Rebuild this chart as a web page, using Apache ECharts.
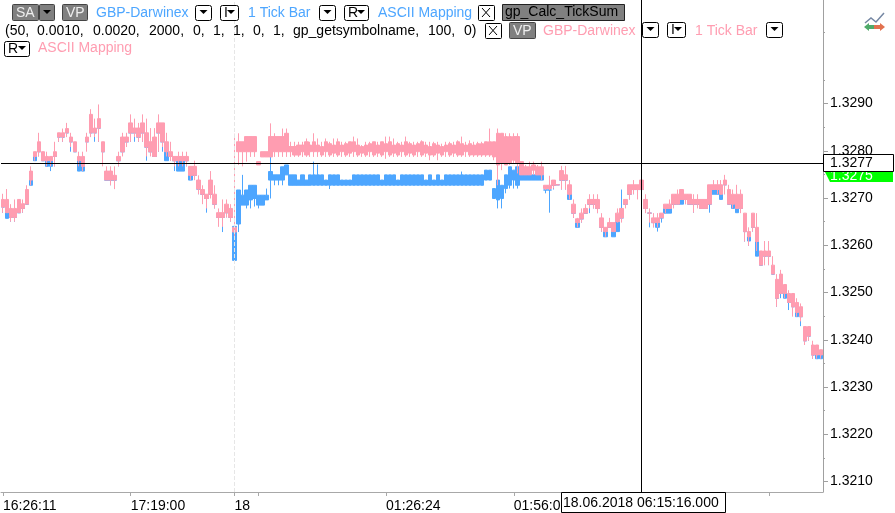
<!DOCTYPE html>
<html>
<head>
<meta charset="utf-8">
<style>html,body{margin:0;padding:0;background:#fff}#c{width:895px;height:513px}</style>
<script src="https://cdn.jsdelivr.net/npm/echarts@6/dist/echarts.min.js"></script>
</head>
<body>
<div id="c"></div>
<script>
// Prices are written in points above 1.32000 (1 point = 0.00001)
const priceBase = 1.32;
const pinkHigh = [
709,719,687,697,697,697,727,767,798,838,
798,798,788,819,838,847,859,838,819,798,
798,838,888,868,898,819,767,767,767,798,
838,838,877,868,859,877,868,848,848,877,
859,838,819,788,798,798,798,767,779,748,
727,708,757,727,678,697,697,687,836,837,
819,830,830,830,777,798,798,858,837,830,
847,847,819,819,819,819,826,819,837,826,
819,826,819,826,826,819,819,819,830,826,
812,819,819,819,819,819,830,830,826,819,
819,830,819,819,819,822,819,819,819,819,
815,819,819,819,822,830,819,822,819,819,
819,819,847,819,847,837,837,837,837,837,
777,770,777,777,770,777,727,747,738,728,
768,768,738,697,658,678,687,708,708,708,
668,638,658,648,678,678,697,728,738,728,
738,708,678,668,668,668,687,697,708,718,
718,708,708,708,708,697,697,728,738,738,
738,749,728,718,728,718,668,638,668,668,
588,609,609,577,539,548,517,505,488,488,
477,428,428,398,389,379];
const pinkTop = [
697,697,678,678,697,688,718,757,798,819,
798,788,788,798,838,838,847,829,819,788,
788,829,877,848,868,819,757,757,748,788,
829,829,859,848,848,859,838,819,829,859,
859,819,798,788,788,788,788,767,767,738,
718,708,738,708,669,669,687,678,638,819,
819,830,830,830,777,798,798,830,830,830,
830,837,809,809,812,812,819,812,819,812,
809,819,815,812,819,812,815,819,819,812,
809,812,815,819,812,819,815,819,812,815,
812,819,815,812,815,819,812,809,815,812,
809,812,815,812,819,815,812,815,812,815,
815,819,819,819,837,837,830,830,830,830,
777,766,766,770,766,766,727,727,738,728,
758,749,728,687,656,668,678,697,697,697,
658,638,648,648,668,678,697,728,728,728,
738,697,668,658,658,668,687,687,708,708,
718,708,708,697,697,697,697,728,728,728,
728,738,718,708,708,708,668,629,668,638,
588,588,588,558,528,539,517,498,498,479,
470,428,428,389,389,379];
const pinkBottom = [
681,669,659,659,669,678,687,738,788,798,
779,779,779,788,829,829,838,819,798,779,
767,819,838,838,848,798,738,738,738,779,
798,819,838,838,829,838,808,798,788,838,
819,798,788,779,779,779,779,748,748,719,
708,699,708,687,659,659,669,659,628,798,
798,798,798,798,770,787,787,787,798,798,
798,798,798,791,791,798,791,798,798,798,
791,798,791,795,791,798,791,795,798,791,
795,791,798,791,795,791,798,791,795,791,
798,791,795,791,798,791,795,791,791,795,
791,798,791,795,791,791,798,791,791,791,
791,791,791,787,770,773,770,773,780,773,
749,749,749,759,749,749,720,720,727,728,
738,738,708,668,648,656,668,687,687,678,
638,629,638,629,650,658,687,708,718,718,
718,678,668,648,648,658,678,678,687,687,
697,697,687,687,687,678,678,687,718,718,
708,728,687,687,678,678,629,618,638,608,
558,577,577,539,488,498,498,479,470,458,
449,398,408,368,368,368];
const pinkLow = [
669,669,650,650,669,669,687,727,779,788,
779,767,767,767,819,819,829,808,798,767,
757,798,829,829,819,767,738,727,719,767,
788,808,819,829,819,819,788,788,788,798,
808,788,779,767,767,767,767,738,738,708,
687,678,699,678,639,639,659,650,618,770,
767,777,787,787,770,787,787,787,787,787,
787,787,787,787,787,787,787,787,787,787,
787,787,787,787,787,787,787,787,787,787,
787,787,787,787,787,787,783,787,787,787,
787,787,787,787,787,787,787,780,787,780,
787,787,787,787,787,787,787,787,787,787,
787,787,787,780,727,759,770,770,773,752,
749,749,749,749,749,738,717,717,720,728,
718,718,697,658,638,648,668,678,678,668,
629,618,638,629,648,648,678,697,708,697,
708,668,648,638,638,658,668,678,678,687,
697,687,687,669,678,678,678,687,718,708,
708,708,687,678,678,668,608,599,629,588,
558,558,558,539,470,498,488,479,449,449,
439,389,398,360,360,360];
const blueTop = [
681,669,659,659,669,678,687,738,788,798,
779,779,779,788,829,829,838,819,798,779,
767,819,838,838,848,798,738,738,738,779,
798,819,838,838,829,838,808,798,788,838,
819,798,788,779,779,779,779,748,748,719,
708,699,708,687,659,659,669,659,640,717,
706,717,727,727,706,706,706,756,749,749,
766,770,749,749,738,749,738,749,749,749,
749,738,749,749,749,738,738,738,749,749,
749,749,749,749,749,738,749,749,749,738,
749,749,749,749,749,749,738,749,738,749,
738,749,749,749,749,749,749,749,749,749,
749,759,759,720,738,727,749,766,759,766,
749,749,749,749,749,749,717,717,727,728,
738,738,708,668,648,656,668,687,687,678,
638,629,638,629,650,658,687,708,718,718,
718,678,668,648,648,658,678,678,687,687,
697,697,687,687,687,678,678,687,718,718,
708,728,687,687,678,678,629,618,638,608,
558,577,577,539,488,498,498,479,470,458,
449,398,408,368,368,368];
const blueBottom = [
681,657,659,659,669,678,687,727,779,798,
779,767,767,788,829,829,838,819,798,757,
757,819,838,838,848,798,738,738,738,779,
798,819,838,838,829,838,808,798,788,838,
819,779,788,779,757,757,779,738,748,719,
708,699,708,687,659,659,669,659,568,645,
685,685,696,699,685,685,696,738,738,738,
738,749,727,727,727,727,727,727,727,727,
727,727,727,727,727,727,727,727,727,727,
727,727,727,727,727,727,727,727,727,727,
727,727,727,727,727,727,727,727,727,727,
727,727,727,727,727,727,727,727,727,727,
727,738,738,699,696,699,720,727,738,727,
738,738,738,738,738,738,717,717,727,728,
738,738,697,668,638,656,668,687,687,678,
638,618,638,618,629,658,687,708,718,718,
718,678,668,648,638,658,668,668,687,697,
687,697,687,687,687,678,678,687,708,708,
697,728,687,678,669,678,629,609,638,577,
558,577,577,539,488,498,488,479,470,449,
449,398,408,368,360,360];
const blueLow = [
669,657,650,650,669,669,687,727,779,788,
779,767,757,767,819,819,829,798,798,757,
757,819,829,819,819,788,738,727,719,767,
808,808,819,819,819,819,779,798,798,798,
798,779,779,757,757,757,767,738,738,708,
708,669,708,678,659,628,659,650,568,628,
685,678,678,682,678,685,696,699,727,727,
727,749,727,727,727,727,727,727,727,727,
727,727,719,727,727,727,727,727,727,727,
727,727,727,727,727,727,727,727,727,727,
727,727,727,727,727,727,727,727,727,727,
727,727,727,727,727,727,727,727,727,727,
727,738,738,699,678,678,710,720,720,720,
738,738,738,738,738,738,710,669,718,728,
718,718,697,658,638,648,668,668,678,668,
629,618,638,618,629,650,687,697,708,708,
708,678,638,638,629,648,668,668,687,697,
687,687,687,669,687,678,678,669,708,708,
697,708,687,678,669,678,608,599,629,577,
558,558,558,539,470,488,488,463,470,449,
429,389,398,360,360,360];
// Blue upward spikes: column index and its high
const blueSpikeIndex = [60,66,67,78,79,115,124,129,155];
const blueSpikeHigh  = [749,720,787,777,771,756,768,787,718];

const timeLabelIndex = [0,32,58,96,128];
const timeLabels = ['16:26:11','17:19:00','18','01:26:24','01:56:00'];
const timeTickIndex = [0,32,58,64,96,128,192];
const priceTicks = [1.3210,1.3220,1.3230,1.3240,1.3250,1.3260,1.3270,1.3280,1.3290];
const priceMinorTicks = [1.3215,1.3225,1.3235,1.3245,1.3255,1.3265,1.3275,1.3285,1.3295,1.3305];
const crossPrice = 1.32774;
const crossIndex = 160;
const sessionIndex = 58;
const crossPriceLabel = '1.3277';
const lastPriceLabel = '1.3275';
const crossTimeLabel = '18.06.2018 06:15:16.000';
const paramTokens = ['(50,','0.0010,','0.0020,','2000,','0,','1,','1,','0,','1,','gp_getsymbolname,','100,','0)'];
const paramTokenX = [5,37,93,149,193,213,233,253,273,293,428,464];

const BLUE = '#4DA6FF', PINK = '#FF9DB1', GRAY = '#808080';
const toPrice = v => +(priceBase + v / 100000).toFixed(5);
const categories = pinkHigh.map((_, i) => {
  const k = timeLabelIndex.indexOf(i);
  return k >= 0 ? timeLabels[k] : String(i);
});
const pinkData = pinkHigh.map((_, i) => [pinkTop[i], pinkBottom[i], pinkLow[i], pinkHigh[i]].map(toPrice));
const blueData = blueTop.map((_, i) => {
  const s = blueSpikeIndex.indexOf(i);
  const hi = s >= 0 ? blueSpikeHigh[s] : blueTop[i];
  return [blueTop[i], blueBottom[i], blueLow[i], hi].map(toPrice);
});

// toolbar furniture
const FONT = '14px "Liberation Sans", Arial, sans-serif';
const g = [];
function txt(s, x, y, fill) {
  g.push({type:'text', z:100, style:{text:s, x, y, fill, font:FONT, align:'left', verticalAlign:'middle'}});
}
function box(x, y, w, h, fill, stroke, r) {
  g.push({type:'rect', z:100, shape:{x:x+.5, y:y+.5, width:w, height:h, r:r||0}, style:{fill, stroke, lineWidth:1}});
}
function tri(cx, cy) {
  g.push({type:'polygon', z:101, shape:{points:[[cx-4,cy-2],[cx+4,cy-2],[cx,cy+2]]}, style:{fill:'#000'}});
}
function drop(x, y, w, label) {
  box(x, y, w, 15, '#fff', '#000', 2);
  if (label) { txt(label, x+4, y+8, '#000'); tri(x+w-7, y+7); }
  else tri(x+w/2+.5, y+7);
}
function cross(x, y) {
  box(x, y, 16, 15, '#fff', '#000', 1);
  g.push({type:'line', z:101, shape:{x1:x+4,y1:y+3,x2:x+12,y2:y+12}, style:{stroke:'#000',lineWidth:1}});
  g.push({type:'line', z:101, shape:{x1:x+12,y1:y+3,x2:x+4,y2:y+12}, style:{stroke:'#000',lineWidth:1}});
}
function grayBtn(x, y, w, label, color) {
  box(x, y, w, 16, GRAY, '#444', 1);
  txt(label, x+4, y+9, color);
}
// line 1
grayBtn(12, 4, 26, 'SA', '#eee');
box(39, 4, 15, 16, GRAY, '#444', 1); tri(47, 12);
grayBtn(62, 4, 25, 'VP', '#eee');
txt('GBP-Darwinex', 96, 13, BLUE);
drop(195, 5, 16);
drop(220, 5, 18, 'I');
txt('1 Tick Bar', 248, 13, BLUE);
drop(319, 5, 16);
drop(344, 5, 24, 'R');
txt('ASCII Mapping', 378, 13, BLUE);
cross(478, 5);
box(502, 4, 122, 16, GRAY, '#222', 0);
txt('gp_Calc_TickSum', 505, 12, '#000');
// line 2
paramTokens.forEach((t, i) => txt(t, paramTokenX[i], 31, '#000'));
cross(485, 23);
grayBtn(509, 22, 26, 'VP', '#eee');
txt('GBP-Darwinex', 543, 31, PINK);
drop(642, 22, 16);
drop(667, 22, 18, 'I');
txt('1 Tick Bar', 695, 31, PINK);
drop(766, 22, 16);
// line 3
drop(4, 41, 25, 'R');
txt('ASCII Mapping', 38, 48, PINK);
// icon
g.push({type:'polyline', z:100, shape:{points:[[865,23],[871,18],[876,22],[884,13]]}, style:{stroke:'#7587a3',lineWidth:1.5,fill:null}});
g.push({type:'polygon', z:100, shape:{points:[[864,27],[869,23],[869,25],[875,25],[875,29],[869,29],[869,31]]}, style:{fill:'#4faa6a'}});
g.push({type:'polygon', z:100, shape:{points:[[885,27],[880,23],[880,25],[874,25],[874,29],[880,29],[880,31]]}, style:{fill:'#e2714f'}});
// price flags
g.push({type:'polygon', z:100, shape:{points:[[825,172],[893,172],[893,182],[830,182]]}, style:{fill:'#00ff00'}});
txt(lastPriceLabel, 830, 176, '#fff');
box(823, 154, 70, 17, '#fff', '#000', 0);
txt(crossPriceLabel, 830, 163, '#000');
// time flag
box(561, 492, 164, 20, '#fff', '#000', 0);
txt(crossTimeLabel, 563, 503, '#000');

const yMin = 1.32078, yMax = 1.33119;
const chart = echarts.init(document.getElementById('c'), null, {renderer:'canvas'});
chart.setOption({
  animation:false,
  backgroundColor:'#fff',
  grid:{left:0, top:0, width:823, height:492, containLabel:false},
  xAxis:{
    type:'category', data:categories, boundaryGap:true,
    axisLine:{show:true, lineStyle:{color:'#a8a8a8', width:1}},
    axisTick:{show:true, alignWithLabel:true, length:4, lineStyle:{color:'#a8a8a8'}, interval:(i)=>timeTickIndex.includes(i)},
    axisLabel:{show:true, interval:(i)=>timeLabelIndex.includes(i), align:'left', margin:7, color:'#000', fontSize:14, fontFamily:'Liberation Sans', hideOverlap:false},
    splitLine:{show:false}
  },
  yAxis:[{
    type:'value', position:'right', min:yMin, max:yMax, scale:true,
    axisLine:{show:true, onZero:false, lineStyle:{color:'#a0a0a0', width:1}},
    axisTick:{show:true, length:5, lineStyle:{color:'#a0a0a0'}, customValues:priceTicks},
    axisLabel:{show:true, margin:7, color:'#000', fontSize:14, fontFamily:'Liberation Sans', customValues:priceTicks, formatter:v=>v.toFixed(4), padding:[2,0,0,0]},
    splitLine:{show:false}
  },{
    type:'value', position:'right', min:yMin, max:yMax, scale:true,
    axisLine:{show:false, onZero:false},
    axisTick:{show:true, length:2, lineStyle:{color:'#a0a0a0'}, customValues:priceMinorTicks},
    axisLabel:{show:false},
    splitLine:{show:false}
  }],
  series:[{
    type:'candlestick', name:'blue', data:blueData, barWidth:4, z:2,
    itemStyle:{color:BLUE, color0:BLUE, borderColor:BLUE, borderColor0:BLUE, borderColorDoji:BLUE, borderWidth:1}
  },{
    type:'candlestick', name:'pink', data:pinkData, barWidth:4, z:3,
    itemStyle:{color:PINK, color0:PINK, borderColor:PINK, borderColor0:PINK, borderColorDoji:PINK, borderWidth:1}
  },{
    type:'line', name:'session', data:[], z:1, silent:true,
    markLine:{silent:true, symbol:'none', animation:false, label:{show:false}, precision:5,
      lineStyle:{color:'#e6e6e6', type:'dashed', width:1},
      data:[{xAxis:sessionIndex}]}
  },{
    type:'line', name:'crosshair', data:[], z:10, silent:true,
    markLine:{silent:true, symbol:'none', animation:false, label:{show:false}, precision:5,
      lineStyle:{color:'#000', type:'solid', width:1},
      data:[{yAxis:crossPrice},{xAxis:crossIndex}]}
  }],
  graphic:g
});
</script>
</body>
</html>
